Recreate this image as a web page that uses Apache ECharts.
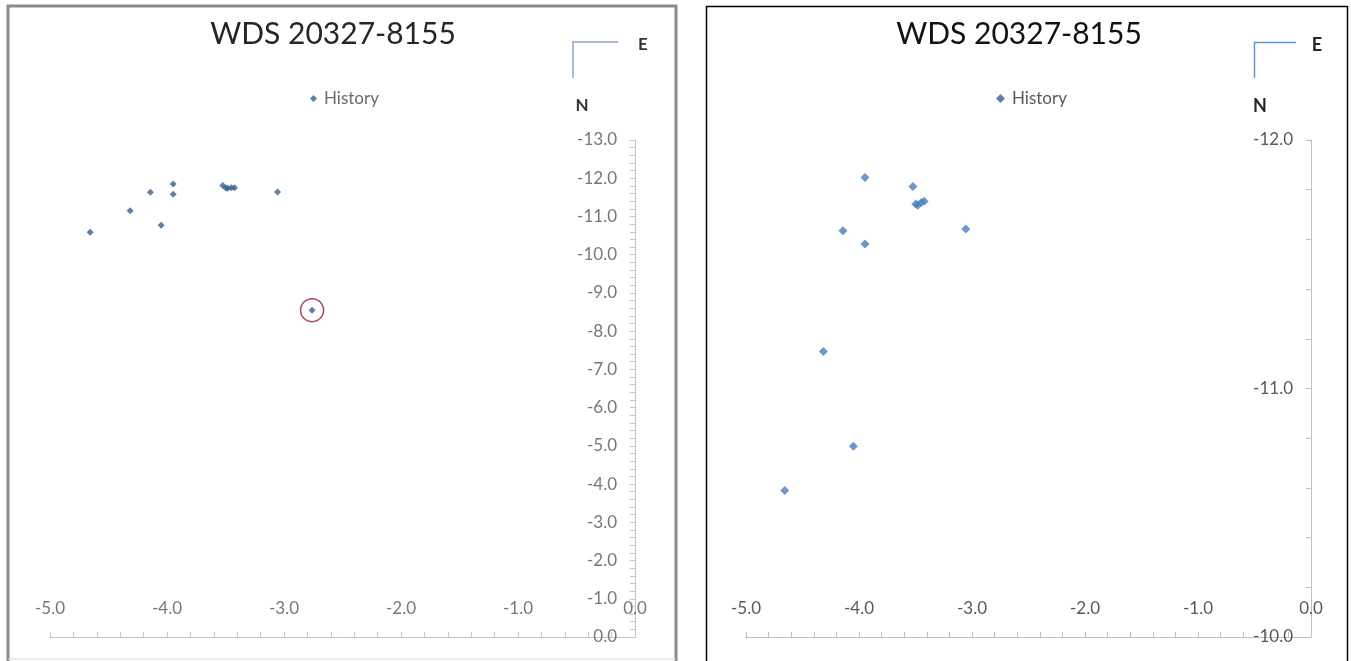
<!DOCTYPE html>
<html><head><meta charset="utf-8">
<script src="https://cdn.jsdelivr.net/npm/echarts@6/dist/echarts.min.js"></script>
<style>html,body{margin:0;padding:0;background:#fff;}#c{width:1351px;height:661px;}</style>
</head><body><div id="c"></div>
<script>
const chartTitle = 'WDS 20327-8155';
const seriesName = 'History';
const histX = [-4.657, -4.315, -4.142, -3.947, -3.947, -4.050, -3.523, -3.497, -3.480, -3.449, -3.423, -3.055, -2.760];
const histY = [-10.590, -11.149, -11.635, -11.849, -11.581, -10.768, -11.813, -11.742, -11.737, -11.748, -11.754, -11.642, -8.550];
const circledIndex = [12];
const xRange = [-5, 0];
const yRangeWide = [-13, 0];
const yRangeZoom = [-12, -10];
const compassLabels = ['E', 'N'];

const histData = histX.map((x, i) => [x, histY[i]]);
const circledData = circledIndex.map(i => [histX[i], histY[i]]);
const fmt = v => v.toFixed(1);
const FONT = 'Lato';

function xAxisCfg(gi, color, lineColor) {
  return {
    type: 'value', gridIndex: gi, min: xRange[0], max: xRange[1], interval: 1,
    position: 'bottom',
    axisLine: { show: true, onZero: false, lineStyle: { color: lineColor, width: 1 } },
    axisTick: { show: true, inside: true, length: 5, lineStyle: { color: lineColor } },
    minorTick: { show: true, splitNumber: 5, length: 5, lineStyle: { color: lineColor } },
    axisLabel: { inside: true, margin: 20, formatter: fmt, color: color, fontSize: 17, fontFamily: FONT },
    splitLine: { show: false }
  };
}
function yAxisCfg(gi, range, color, lineColor) {
  return {
    type: 'value', gridIndex: gi, min: range[0], max: range[1], interval: 1, inverse: true,
    position: 'right',
    axisLine: { show: true, onZero: false, lineStyle: { color: lineColor, width: 1 } },
    axisTick: { show: true, inside: true, length: 5, lineStyle: { color: lineColor } },
    minorTick: { show: true, splitNumber: 5, length: 5, lineStyle: { color: lineColor } },
    axisLabel: { inside: true, margin: 18, formatter: fmt, color: color, fontSize: 17, fontFamily: FONT },
    splitLine: { show: false }
  };
}

const chart = echarts.init(document.getElementById('c'), null, { renderer: 'canvas' });
chart.setOption({
  backgroundColor: '#ffffff',
  animation: false,
  title: [
    { text: chartTitle, left: 328, top: 14, textAlign: 'center',
      textStyle: { fontFamily: FONT, fontSize: 30, fontWeight: 'normal', color: '#262626' } },
    { text: chartTitle, left: 1014, top: 14, textAlign: 'center',
      textStyle: { fontFamily: FONT, fontSize: 30, fontWeight: 'normal', color: '#111111' } }
  ],
  legend: [
    { data: [{ name: seriesName, icon: 'diamond' }], left: 305, top: 85, itemWidth: 7, itemHeight: 7,
      textStyle: { fontFamily: FONT, fontSize: 17, color: '#6a6a6a', padding: [0, 0, 0, 2] }, selectedMode: false },
    { data: [{ name: seriesName, icon: 'diamond' }], left: 991, top: 85, itemWidth: 9, itemHeight: 9,
      textStyle: { fontFamily: FONT, fontSize: 17, color: '#595959', padding: [0, 0, 0, 2] }, selectedMode: false }
  ],
  grid: [
    { left: 50, top: 140, width: 585, height: 497 },
    { left: 746, top: 140, width: 565, height: 497 }
  ],
  xAxis: [xAxisCfg(0, '#777777', '#c4c4c4'), xAxisCfg(1, '#595959', '#bfbfbf')],
  yAxis: [yAxisCfg(0, yRangeWide, '#777777', '#c4c4c4'), yAxisCfg(1, yRangeZoom, '#595959', '#bfbfbf')],
  series: [
    { name: seriesName, type: 'scatter', xAxisIndex: 0, yAxisIndex: 0, data: histData,
      symbol: 'diamond', symbolSize: 7, itemStyle: { color: '#345f90' } },
    { name: 'circled', type: 'scatter', xAxisIndex: 0, yAxisIndex: 0, data: circledData,
      symbol: 'circle', symbolSize: 23, z: 1,
      itemStyle: { color: 'rgba(0,0,0,0)', borderColor: '#8e1b33', borderWidth: 1.5 } },
    { name: seriesName, type: 'scatter', xAxisIndex: 1, yAxisIndex: 1, data: histData, clip: true,
      symbol: 'diamond', symbolSize: 9, itemStyle: { color: '#4a7ebb' } }
  ],
  graphic: [
    { type: 'polyline', shape: { points: [[8, 661], [8, 6], [676, 6], [676, 661]] },
      style: { fill: null, stroke: '#8c8c8c', lineWidth: 3 }, silent: true },
    { type: 'line', shape: { x1: 8, y1: 659, x2: 676, y2: 659 },
      style: { stroke: '#dadada', lineWidth: 1 }, silent: true },
    { type: 'polyline', shape: { points: [[706.5, 661], [706.5, 6.5], [1347.5, 6.5], [1347.5, 661]] },
      style: { fill: null, stroke: '#000000', lineWidth: 1.5 }, silent: true },
    { type: 'polyline', shape: { points: [[618, 42], [573, 42], [573, 78]] },
      style: { fill: null, stroke: '#a9bcd6', lineWidth: 2 }, silent: true },
    { type: 'polyline', shape: { points: [[1296, 42.5], [1254.5, 42.5], [1254.5, 78]] },
      style: { fill: null, stroke: '#5b9bd5', lineWidth: 1.5 }, silent: true },
    { type: 'text', x: 643, y: 45, style: { text: compassLabels[0], font: 'bold 17px Lato', fill: '#333', align: 'center', verticalAlign: 'middle' } },
    { type: 'text', x: 582, y: 106, style: { text: compassLabels[1], font: 'bold 17px Lato', fill: '#333', align: 'center', verticalAlign: 'middle' } },
    { type: 'text', x: 1317, y: 45, style: { text: compassLabels[0], font: 'bold 18px Lato', fill: '#262626', align: 'center', verticalAlign: 'middle' } },
    { type: 'text', x: 1260, y: 106, style: { text: compassLabels[1], font: 'bold 18px Lato', fill: '#262626', align: 'center', verticalAlign: 'middle' } }
  ]
});
</script>
</body></html>
